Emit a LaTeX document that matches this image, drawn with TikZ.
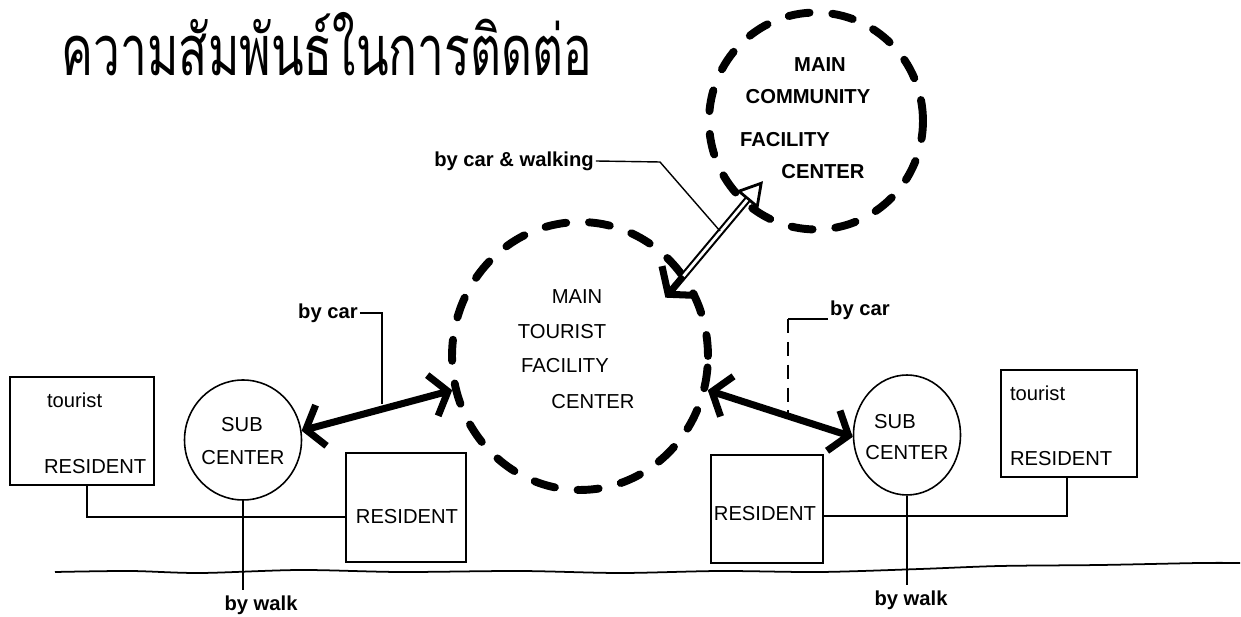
\documentclass[tikz,border=0pt]{standalone}
\usepackage{fontspec}
\setmainfont{Liberation Sans}
\newfontfamily\thaifont[Script=Thai]{Loma}
\usetikzlibrary{arrows.meta,shapes.geometric,calc}
\begin{document}
\begin{tikzpicture}[x=0.02cm,y=-0.02cm,
  thinln/.style={line width=0.8pt},
  box/.style={draw, line width=0.9pt, rectangle, inner sep=0pt},
  subc/.style={draw, line width=0.9pt, ellipse, inner sep=0pt},
  bigc/.style={draw, ellipse, inner sep=0pt, line width=4.5pt, dash pattern=on 12pt off 13pt, line cap=round},
  txt/.style={font=\fontsize{11.5}{12}\selectfont, inner sep=1pt},
  btxt/.style={font=\bfseries\fontsize{11.5}{12}\selectfont, inner sep=1pt},
  carr/.style={line width=4pt, {Straight Barb[length=9pt,width=24pt]}-{Straight Barb[length=9pt,width=24pt]}}
]
\useasboundingbox (0,0) rectangle (1241,617);
\fill[white] (0,0) rectangle (1241,617);

% title
\node[font=\thaifont\fontsize{40}{40}\selectfont, inner sep=0pt] (title) at (327,44) {\scalebox{0.68}[1]{ความสัมพันธ์ในการติดต่อ}};

% big dashed circles
\node[bigc, minimum width=5.12cm, minimum height=5.36cm] (mt) at (580,356) {};
\node[bigc, minimum width=4.28cm, minimum height=4.34cm] (mc) at (816,121) {};

\node[txt] (mt1) at (577,297) {MAIN};
\node[txt] (mt2) at (562,332) {TOURIST};
\node[txt] (mt3) at (565,366) {FACILITY};
\node[txt] (mt4) at (593,402) {CENTER};

\node[btxt] (mc1) at (820,65) {MAIN};
\node[btxt] (mc2) at (808,97) {COMMUNITY};
\node[btxt] (mc3) at (785,140) {FACILITY};
\node[btxt] (mc4) at (823,172) {CENTER};

% sub centers
\node[subc, minimum width=2.34cm, minimum height=2.4cm] (sc1) at (243,440) {};
\node[txt] (sc1a) at (242,425) {SUB};
\node[txt] (sc1b) at (243,458) {CENTER};
\node[subc, minimum width=2.14cm, minimum height=2.4cm] (sc2) at (907,435) {};
\node[txt] (sc2a) at (895,422) {SUB};
\node[txt] (sc2b) at (907,453) {CENTER};

% boxes
\node[box, minimum width=2.88cm, minimum height=2.16cm] (tb1) at (82,431) {};
\node[txt, anchor=west] (tb1a) at (45,400) {tourist};
\node[txt, anchor=west] (tb1b) at (42,467) {RESIDENT};
\node[box, minimum width=2.4cm, minimum height=2.18cm] (rb1) at (406,507.5) {};
\node[txt] (rb1a) at (407,517) {RESIDENT};
\node[box, minimum width=2.24cm, minimum height=2.16cm] (rb2) at (767,509) {};
\node[txt] (rb2a) at (765,514) {RESIDENT};
\node[box, minimum width=2.72cm, minimum height=2.14cm] (tb2) at (1069,423.5) {};
\node[txt, anchor=west] (tb2a) at (1008,393) {tourist};
\node[txt, anchor=west] (tb2b) at (1008,459) {RESIDENT};

% ground
\draw[line width=1pt] plot[smooth] coordinates {(55,572) (130,571) (200,573) (300,570) (400,572) (520,571) (620,573) (720,571) (820,572) (920,569) (1000,566) (1100,565) (1200,563) (1240,563)};

% connectors left
\coordinate (j1) at (87,517);
\draw[thinln] (tb1.south -| j1) |- (rb1.west |- j1);
\coordinate (w1) at (243,590);
\draw[thinln] (sc1.south) -- (w1);
\node[btxt, anchor=north] (bw1) at (261,594) {by walk};

% connectors right
\coordinate (j2) at (1067,516);
\draw[thinln] (rb2.east |- j2) -| (tb2.south -| j2);
\coordinate (w2) at (907,585);
\draw[thinln] (sc2.south) -- (w2);
\node[btxt, anchor=north] (bw2) at (911,589) {by walk};

% car arrows
\draw[carr] (sc1.9.5) -- (mt.195.5);
\draw[carr] (mt.345) -- (sc2.182);

% labels by car
\node[btxt] (bc1) at (328,313) {by car};
\coordinate (k1) at (382,313);
\coordinate (k1b) at (382,404);
\draw[thinln] (bc1.east) -- (k1) -- (k1b);

\node[btxt] (bc2) at (860,310) {by car};
\coordinate (k2) at (788,319);
\coordinate (k2b) at (788,417);
\draw[thinln] (bc2.west |- k2) -- (k2);
\draw[thinln, dash pattern=on 8pt off 5pt] (k2) -- (k2b);

% car & walking arrow
\draw[line width=4pt, {Straight Barb[length=10pt,width=26pt]}-{Triangle[open,length=14pt,width=16pt,line width=1.6pt]}, shorten <=-18pt, shorten >=-18pt] (mt.38.5) -- (mc.229.5);
\draw[white, line width=1.6pt, shorten <=-2pt, shorten >=-4pt] (mt.38.5) -- (mc.229.5);

\node[btxt] (bcw) at (514,161) {by car \& walking};
\coordinate (k3) at (660,162);
\coordinate (k3b) at (720,231);
\draw[thinln] (bcw.east) -- (k3) -- (k3b);
\end{tikzpicture}
\end{document}
